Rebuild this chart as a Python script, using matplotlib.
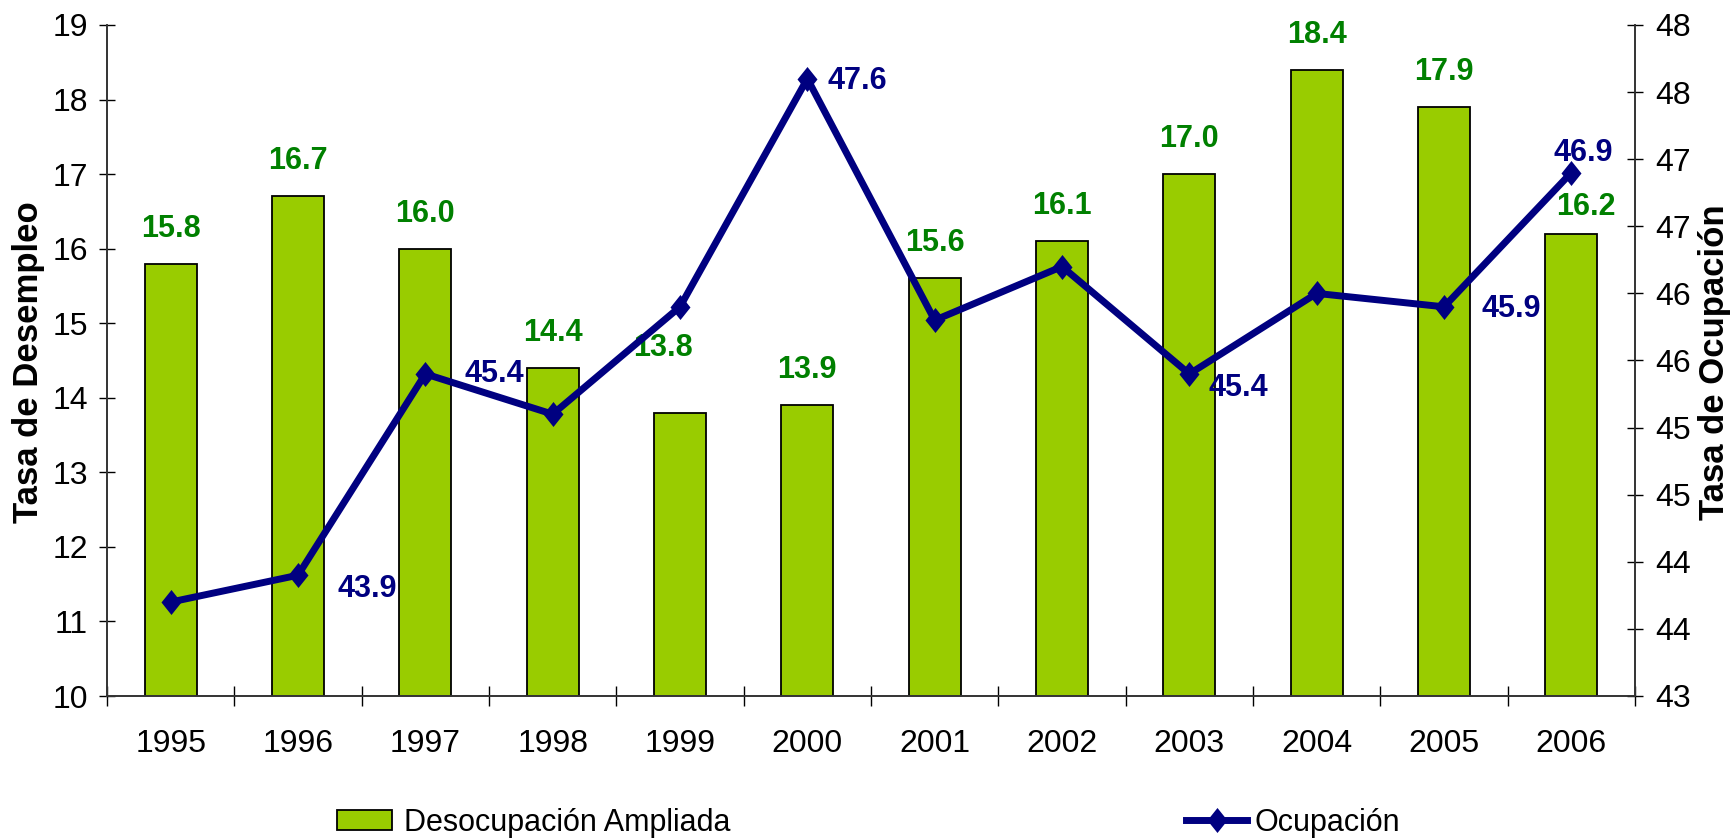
import matplotlib
matplotlib.use("Agg")
import matplotlib.pyplot as plt
import numpy as np

plt.rcParams['font.family'] = ['Liberation Sans', 'DejaVu Sans']

# data
years = ["1995", "1996", "1997", "1998", "1999", "2000",
         "2001", "2002", "2003", "2004", "2005", "2006"]
desocupacion = [15.8, 16.7, 16.0, 14.4, 13.8, 13.9, 15.6, 16.1, 17.0, 18.4, 17.9, 16.2]
ocupacion = [43.7, 43.9, 45.4, 45.1, 45.9, 47.6, 45.8, 46.2, 45.4, 46.0, 45.9, 46.9]

# right axis: Excel shows half steps rounded to whole numbers
right_ticks = [43.0, 43.5, 44.0, 44.5, 45.0, 45.5, 46.0, 46.5, 47.0, 47.5, 48.0]
right_labels = ["43", "44", "44", "45", "45", "46", "46", "47", "47", "48", "48"]

# which line points carry a label, and where (offset in pixels)
line_label_offsets = {"1996": (69, -14), "1997": (69, 0), "2000": (50, -2),
                      "2003": (49, -14), "2005": (67, -2), "2006": (12, 20)}
bar_label_offsets = {"1999": (-17, 65), "2006": (15, 27)}

BAR_COLOR = '#99CC00'
GREEN = '#008000'
NAVY = '#000080'

fig = plt.figure(figsize=(17.35, 8.39), dpi=100)
ax = fig.add_axes([107 / 1735, 1 - 696 / 839, 1528 / 1735, 671 / 839])
ax2 = ax.twinx()

x = np.arange(len(years))
bars = ax.bar(x, desocupacion, width=0.41, color=BAR_COLOR, edgecolor='black',
              linewidth=1.3, label='Desocupación Ampliada', zorder=2)

diamond = [(0, 1), (0.8, 0), (0, -1), (-0.8, 0), (0, 1)]
line, = ax2.plot(x, ocupacion, color=NAVY, linewidth=5, marker=diamond,
                 markersize=18, markeredgewidth=0, label='Ocupación', zorder=3)

# bar labels
for i, v in enumerate(desocupacion):
    dx, dy = bar_label_offsets.get(years[i], (0, 35))
    ax.annotate(f"{v:.1f}", (x[i], v), xytext=(dx, dy), textcoords='offset pixels',
                ha='center', va='center', fontsize=22, fontweight='bold', color=GREEN)

# line labels
for i, v in enumerate(ocupacion):
    if years[i] in line_label_offsets:
        dx, dy = line_label_offsets[years[i]]
        ax2.annotate(f"{v:.1f}", (x[i], v), xytext=(dx, dy), textcoords='offset pixels',
                     ha='center', va='center', fontsize=22, fontweight='bold', color=NAVY)

ax.set_xlim(-0.5, len(years) - 0.5)
ax.set_ylim(10, 19)
ax2.set_ylim(43, 48)

ax.set_yticks(np.arange(10, 20, 1))
ax.tick_params(axis='y', direction='inout', length=11.5, width=1, labelsize=23, pad=8)

ax.set_xticks(np.arange(-0.5, len(years), 1))
ax.set_xticklabels([])
ax.tick_params(axis='x', which='major', direction='inout', length=15, width=1)
ax.set_xticks(x, minor=True)
ax.set_xticklabels(years, minor=True)
ax.tick_params(axis='x', which='minor', length=0, labelsize=23, pad=24)

ax2.set_yticks(right_ticks)
ax2.set_yticklabels(right_labels)
ax2.tick_params(axis='y', direction='inout', length=11.5, width=1, labelsize=23, pad=8.5)

for a in (ax, ax2):
    a.spines['top'].set_visible(False)
    for s in ('left', 'right', 'bottom'):
        a.spines[s].set_linewidth(1.2)
        a.spines[s].set_color('#333333')

fig.text(29 / 1735, 1 - 362 / 839, 'Tasa de Desempleo', rotation=90, ha='center',
         va='center', fontsize=25, fontweight='bold')
fig.text(1714 / 1735, 1 - 362 / 839, 'Tasa de Ocupación', rotation=90, ha='center',
         va='center', fontsize=25, fontweight='bold')

fig.legend(handles=[bars], loc='center left', bbox_to_anchor=(337 / 1735, 1 - 823 / 839),
           frameon=False, borderpad=0, borderaxespad=0, fontsize=22,
           handlelength=1.8, handleheight=0.65, handletextpad=0.4)
fig.legend(handles=[line], loc='center left', bbox_to_anchor=(1186 / 1735, 1 - 823 / 839),
           frameon=False, borderpad=0, borderaxespad=0, fontsize=22,
           handlelength=2.0, handletextpad=0.23)

fig.savefig('out.png', dpi=100)
